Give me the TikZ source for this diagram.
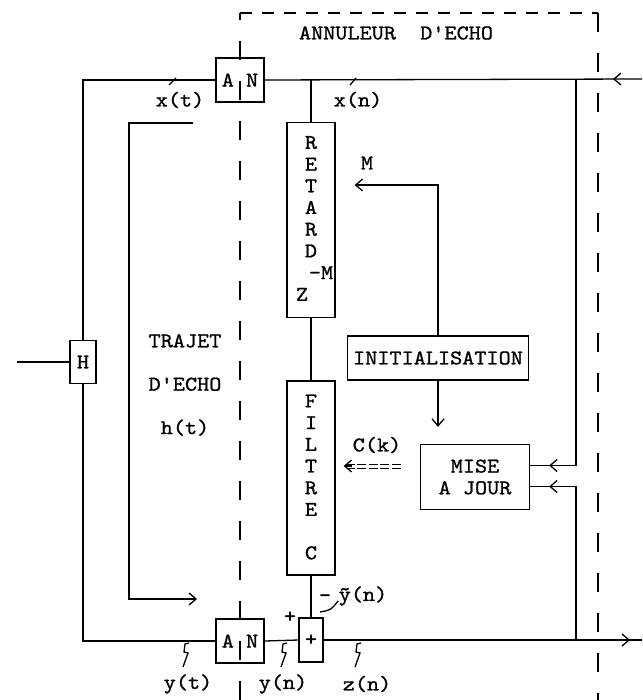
\documentclass[tikz,border=0pt]{standalone}
\usepackage{fontspec}
\newfontfamily\machine{lmmono10-regular.otf}[FakeStretch=1.1, FakeBold=1]
\usetikzlibrary{arrows.meta, positioning, decorations.markings}

\begin{document}
\begin{tikzpicture}[
			x=1pt, y=-1pt,
			font=\machine\fontsize{21}{21.7}\selectfont,
			trait/.style={line width=1.3pt},
			bloc/.style={
				draw,
				rectangle,
				line width=1.3pt,
				inner sep=0pt,
				align=center
			},
			texte/.style={inner sep=0pt, align=center},
			fleche/.style={line width=1.3pt, -{Straight Barb[length=7pt, width=12pt]}},
			chevron/.style={postaction={decorate}, decoration={markings,
				mark=at position #1 with {\arrow{Straight Barb[length=7pt, width=12pt]}}}},
			egal/.style={double, double distance=3pt, line width=1pt, dash pattern=on 9pt off 2.5pt},
			cadre/.style={line width=1.3pt, dash pattern=on 19pt off 21pt},
			coche/.style={line width=1.3pt}
			]
			\useasboundingbox (0,0) rectangle (642,700);
			
			% -------------------------------
			% CADRE ANNULEUR
			% -------------------------------
			\draw[cadre] (240,700) -- (240,13);
			\draw[cadre, dash pattern=on 12pt off 10pt] (240,13) -- (598,13);
			\draw[cadre] (598,13) -- (598,700);
			\node[texte] (titre) at (396,33) {ANNULEUR\ \ D'ECHO};
			
			% -------------------------------
			% BLOCS
			% -------------------------------
			\node[bloc, minimum width=48pt, minimum height=44pt] (anHaut) at (240,80) {A\ N};
			\node[bloc, minimum width=48pt, minimum height=44pt] (anBas) at (240,641) {A\ N};
			\node[bloc, minimum width=26pt, minimum height=43pt] (h) at (83,362) {H};
			\node[bloc, minimum width=48pt, minimum height=195pt] (retard) at (311,220) {};
			\node[texte, below=14pt of retard.north] (retardTxt) {R\\E\\T\\A\\R\\D\\\hspace*{20pt}-M\\Z\hspace*{18pt}};
			\node[bloc, minimum width=48pt, minimum height=194pt] (filtre) at (311,478) {};
			\node[texte, below=14pt of filtre.north] (filtreTxt) {F\\I\\L\\T\\R\\E\\[21.7pt]C};
			\node[bloc, minimum width=24pt, minimum height=44pt] (somme) at (311,640) {+};
			\node[bloc, minimum width=181pt, minimum height=44pt] (init) at (438,358) {INITIALISATION};
			\node[bloc, minimum width=109pt, minimum height=65pt] (maj) at (475,477) {MISE\\A JOUR};
			
			% -------------------------------
			% ETIQUETTES
			% -------------------------------
			\node[texte] (xt) at (180,100) {x(t)};
			\node[texte] (xn) at (358,100) {x(n)};
			\node[texte] (lblM) at (367,163) {M};
			\node[texte] (lblC) at (377,445) {C(k)};
			\node[texte] (trajet) at (185,385) {TRAJET\\[21.7pt]D'ECHO\\[21.7pt]h(t)};
			\node[texte] (plus) at (290,617) {+};
			\node[texte] (moins) at (325,598) {-};
			\node[texte] (ytilde) at (363,596) {\~{y}(n)};
			\node[texte] (yt) at (188,684) {y(t)};
			\node[texte] (yn) at (283,684) {y(n)};
			\node[texte] (zn) at (367,684) {z(n)};
			
			% -------------------------------
			% POINTS LIBRES
			% -------------------------------
			\coordinate (entreeX) at (642,79);
			\coordinate (sortieZ) at (642,640);
			\coordinate (entreeH) at (17,362);
			\coordinate (jHaut) at (576,79);
			\coordinate (jBas) at (576,640);
			\coordinate (echoDebut) at (193,123);
			\coordinate (echoCoin) at (129,599);
			\coordinate (echoFin) at (197,599);
			\coordinate (pointeC) at ([yshift=11pt]maj.west -| filtre.east);
			
			% -------------------------------
			% LIAISONS
			% -------------------------------
			\draw[trait, chevron=29pt] (entreeX) -- (anHaut.east);
			\draw[trait] (anHaut.west) -| (h.north);
			\draw[trait] (h.south) |- (anBas.west);
			\draw[trait] (entreeH) -- (h.west);
			\draw[trait] (retard.north |- anHaut.east) -- (retard.north);
			\draw[trait] (retard.south) -- (filtre.north);
			\draw[trait] (filtre.south) -- (somme.north);
			\draw[trait] (anBas.east) -- (somme.west);
			\draw[trait, chevron=-12pt] (somme.east) -- (sortieZ);
			\draw[trait, chevron=-19pt] (jHaut) |- ([yshift=11.5pt]maj.east);
			\draw[trait, chevron=-19pt] (jBas) |- ([yshift=-9.5pt]maj.east);
			\draw[fleche, shorten >=19pt] (init.north) |- ([yshift=35pt]retard.east);
			\draw[fleche, shorten >=17pt] (init.south) -- (init.south |- maj.north);
			\draw[egal, shorten <=19pt, shorten >=11pt] ([yshift=11pt]maj.west) -- (pointeC);
			\draw[fleche, shorten >=8pt] ([xshift=16pt]pointeC) -- (pointeC);
			\draw[fleche] (echoDebut) -| (echoCoin) -- (echoFin);
			
			% -------------------------------
			% MARQUES
			% -------------------------------
			\draw[coche] (169,85) -- (176,78);
			\draw[coche] (350,85) -- (356,78);
			\draw[coche] (320,612) .. controls (331,610) .. (338,601);
			\draw[coche] (189,643) -- (185,644) -- (184,652) -- (188,653) -- (183,667);
			\draw[coche] (287,643) -- (283,644) -- (282,652) -- (286,653) -- (281,667);
			\draw[coche] (361,643) -- (357,644) -- (356,652) -- (360,653) -- (355,667);
			
		\end{tikzpicture}
\end{document}
